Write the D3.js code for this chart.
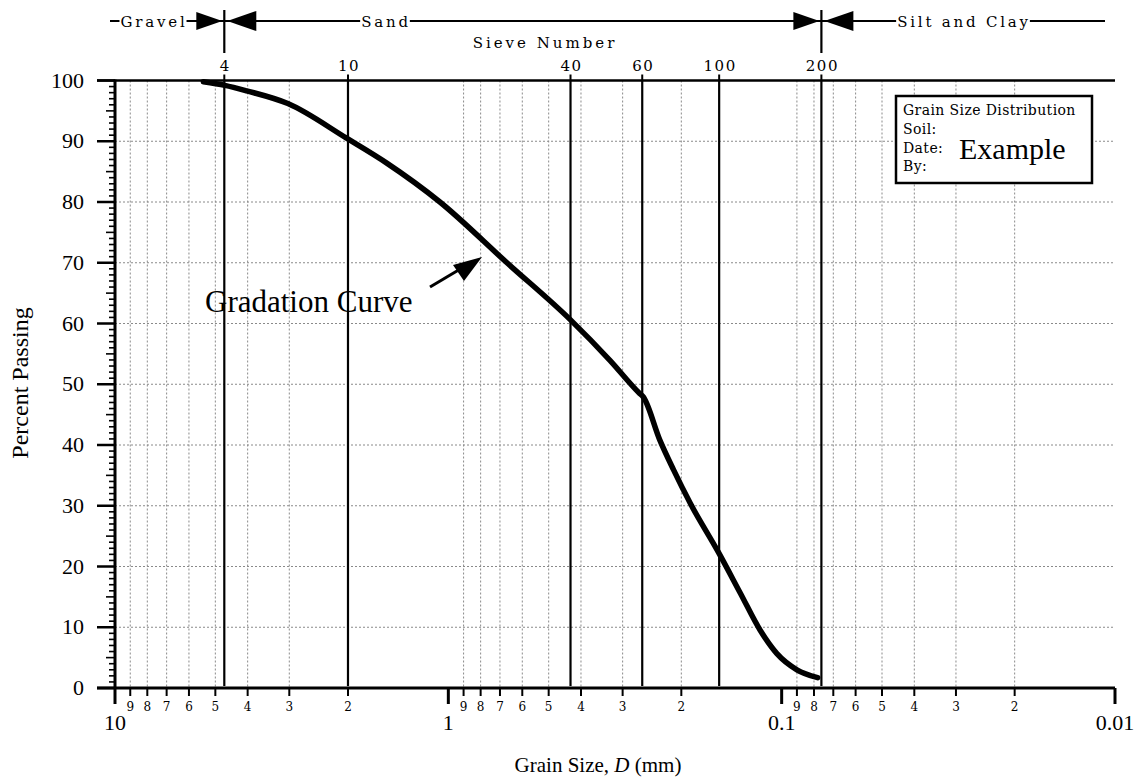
<!DOCTYPE html>
<html>
<head>
<meta charset="utf-8">
<script src="https://cdn.jsdelivr.net/npm/d3@7"></script>
<style>
  body { margin: 0; background: #fff; }
  svg { display: block; }
  text { font-family: "Liberation Serif", "Times New Roman", serif; fill: #000; }
  text.wide { font-family: "DejaVu Serif", serif; }
</style>
</head>
<body>
<div id="chart"></div>
<script>
// gradation curve
const grainSize = [5.43, 4.68, 4.03, 3.03, 2.02, 1.53, 1.06, 0.667, 0.43, 0.327, 0.268, 0.260, 0.232, 0.211, 0.188, 0.155, 0.133, 0.116, 0.1035, 0.090, 0.078];
const percentPassing = [99.8, 99.2, 98.3, 96.2, 90.5, 86.4, 80.0, 70.0, 60.6, 53.9, 48.6, 47.9, 40.8, 35.9, 30.4, 22.4, 15.6, 9.5, 5.7, 3.0, 1.7];

// sieves
const sieveNumbers = ["4", "10", "40", "60", "100", "200"];
const sieveSizes = [4.7, 2.0, 0.43, 0.262, 0.154, 0.076];

// axes
const yTicks = [0, 10, 20, 30, 40, 50, 60, 70, 80, 90, 100];
const decades = [10, 1, 0.1, 0.01];
const decadeLabels = ["10", "1", "0.1", "0.01"];
const minorDigits = [9, 8, 7, 6, 5, 4, 3, 2];

const soilClasses = ["Gravel", "Sand", "Silt and Clay"];
const boxLines = ["Grain Size Distribution", "Soil:", "Date:", "By:"];

const W = 1148, H = 779;
const plotL = 115, plotR = 1115, plotT = 80.5, plotB = 688;

const svg = d3.select("#chart").append("svg")
  .attr("width", W)
  .attr("height", H);

const x = d3.scaleLog().domain([10, 0.01]).range([plotL, plotR]);
const y = d3.scaleLinear().domain([0, 100]).range([plotB, plotT]);

// minor positions 2..9 in every decade
const minorVals = [];
decades.slice(0, 3).forEach((d) => {
  minorDigits.forEach((m) => minorVals.push({v: d * m / 10, label: m}));
});

// grid
svg.append("g").selectAll("line").data(minorVals).enter().append("line")
  .attr("x1", (d) => x(d.v)).attr("x2", (d) => x(d.v))
  .attr("y1", plotT).attr("y2", plotB)
  .attr("stroke", "#8a8a8a").attr("stroke-width", 1).attr("stroke-dasharray", "2,2");

svg.append("g").selectAll("line").data(yTicks.slice(1, -1)).enter().append("line")
  .attr("x1", plotL).attr("x2", plotR - 2)
  .attr("y1", (d) => y(d)).attr("y2", (d) => y(d))
  .attr("stroke", "#8a8a8a").attr("stroke-width", 1).attr("stroke-dasharray", "2,2");

// sieve lines
svg.append("g").selectAll("line").data(sieveSizes).enter().append("line")
  .attr("x1", (d) => x(d)).attr("x2", (d) => x(d))
  .attr("y1", plotT).attr("y2", plotB - 2)
  .attr("stroke", "#000").attr("stroke-width", 2.2);

svg.append("g").selectAll("line").data(sieveSizes).enter().append("line")
  .attr("x1", (d) => x(d)).attr("x2", (d) => x(d))
  .attr("y1", plotT - 6).attr("y2", plotT)
  .attr("stroke", "#000").attr("stroke-width", 2);

svg.append("g").selectAll("text").data(sieveNumbers).enter().append("text")
  .attr("class", "wide")
  .attr("x", (d, i) => x(sieveSizes[i]) + 1)
  .attr("y", 71)
  .attr("text-anchor", "middle")
  .attr("font-size", 15)
  .attr("letter-spacing", 1.5)
  .text((d) => d);

svg.append("text")
  .attr("class", "wide")
  .attr("x", 545).attr("y", 48)
  .attr("text-anchor", "middle")
  .attr("font-size", 15)
  .attr("letter-spacing", 3)
  .text("Sieve Number");

// soil class header
const headY = 21;
svg.append("line")
  .attr("x1", 110).attr("x2", 1105).attr("y1", headY).attr("y2", headY)
  .attr("stroke", "#000").attr("stroke-width", 2);

const classX = [154, 386, 964];
soilClasses.forEach((c, i) => {
  const t = svg.append("text")
    .attr("class", "wide")
    .attr("x", classX[i]).attr("y", headY + 6)
    .attr("text-anchor", "middle")
    .attr("font-size", 15)
    .attr("letter-spacing", 2.8)
    .text(c);
  const bb = t.node().getBBox();
  svg.insert("rect", () => t.node())
    .attr("x", bb.x - 1).attr("y", bb.y).attr("width", bb.width).attr("height", bb.height)
    .attr("fill", "#fff");
});

[sieveSizes[0], sieveSizes[5]].forEach((s) => {
  const bx = x(s);
  svg.append("line")
    .attr("x1", bx).attr("x2", bx).attr("y1", 10).attr("y2", 53)
    .attr("stroke", "#000").attr("stroke-width", 2.2);
  svg.append("path")
    .attr("d", `M${bx - 2},${headY} L${bx - 28},${headY - 9} L${bx - 28},${headY + 9} Z`)
    .attr("fill", "#000");
  svg.append("path")
    .attr("d", `M${bx + 3},${headY} L${bx + 32},${headY - 10} L${bx + 32},${headY + 10} Z`)
    .attr("fill", "#000");
});

// y axis
svg.append("line")
  .attr("x1", plotL).attr("x2", plotL).attr("y1", plotT - 1).attr("y2", plotB + 1)
  .attr("stroke", "#000").attr("stroke-width", 3);

const yMinor = d3.range(1, 100).filter((d) => d % 10 !== 0);
svg.append("g").selectAll("line").data(yMinor).enter().append("line")
  .attr("x1", (d) => d % 5 === 0 ? plotL - 9 : plotL - 6).attr("x2", plotL)
  .attr("y1", (d) => y(d)).attr("y2", (d) => y(d))
  .attr("stroke", "#000").attr("stroke-width", 1.6);

svg.append("g").selectAll("line").data(yTicks).enter().append("line")
  .attr("x1", plotL - 18).attr("x2", plotL)
  .attr("y1", (d) => y(d)).attr("y2", (d) => y(d))
  .attr("stroke", "#000").attr("stroke-width", 2.5);

svg.append("g").selectAll("text").data(yTicks).enter().append("text")
  .attr("x", plotL - 31).attr("y", (d) => y(d) + 7)
  .attr("text-anchor", "end")
  .attr("font-size", 22)
  .text((d) => d);

// top border and x axis
svg.append("line")
  .attr("x1", plotL - 18).attr("x2", plotR).attr("y1", plotT).attr("y2", plotT)
  .attr("stroke", "#000").attr("stroke-width", 2.5);
svg.append("line")
  .attr("x1", plotL - 18).attr("x2", plotR).attr("y1", plotB).attr("y2", plotB)
  .attr("stroke", "#000").attr("stroke-width", 3);

svg.append("g").selectAll("line").data(decades).enter().append("line")
  .attr("x1", (d) => x(d)).attr("x2", (d) => x(d))
  .attr("y1", plotB).attr("y2", plotB + 16)
  .attr("stroke", "#000").attr("stroke-width", 3);

svg.append("g").selectAll("line").data(minorVals).enter().append("line")
  .attr("x1", (d) => x(d.v)).attr("x2", (d) => x(d.v))
  .attr("y1", plotB).attr("y2", plotB + 8)
  .attr("stroke", "#000").attr("stroke-width", 2);

svg.append("g").selectAll("text").data(minorVals).enter().append("text")
  .attr("class", "wide")
  .attr("x", (d) => x(d.v)).attr("y", plotB + 23)
  .attr("text-anchor", "middle")
  .attr("font-size", 12)
  .text((d) => d.label);

svg.append("g").selectAll("text").data(decades).enter().append("text")
  .attr("x", (d) => x(d)).attr("y", plotB + 42)
  .attr("text-anchor", "middle")
  .attr("font-size", 22)
  .text((d, i) => decadeLabels[i]);

// axis titles
const xt = svg.append("text")
  .attr("x", 598).attr("y", 772)
  .attr("text-anchor", "middle")
  .attr("font-size", 21);
xt.append("tspan").text("Grain Size, ");
xt.append("tspan").attr("font-style", "italic").text("D");
xt.append("tspan").text(" (mm)");

svg.append("text")
  .attr("transform", "translate(28,383) rotate(-90)")
  .attr("text-anchor", "middle")
  .attr("font-size", 24)
  .text("Percent Passing");

// gradation curve
const line = d3.line()
  .x((d) => x(d[0]))
  .y((d) => y(d[1]))
  .curve(d3.curveMonotoneX);

svg.append("path")
  .datum(grainSize.map((g, i) => [g, percentPassing[i]]))
  .attr("d", line)
  .attr("fill", "none")
  .attr("stroke", "#000")
  .attr("stroke-width", 5.5)
  .attr("stroke-linecap", "round")
  .attr("stroke-linejoin", "round");

// annotation
svg.append("text")
  .attr("x", 205).attr("y", 312)
  .attr("font-size", 31)
  .text("Gradation Curve");

svg.append("line")
  .attr("x1", 430).attr("y1", 287).attr("x2", 462).attr("y2", 268)
  .attr("stroke", "#000").attr("stroke-width", 3);
svg.append("path")
  .attr("d", "M482,257 L453,265 L464,281 Z")
  .attr("fill", "#000");

// info box
svg.append("rect")
  .attr("x", 896).attr("y", 96).attr("width", 196).attr("height", 87)
  .attr("fill", "#fff").attr("stroke", "#000").attr("stroke-width", 2.5);

const boxY = [115, 134, 153, 171];
svg.append("g").selectAll("text").data(boxLines).enter().append("text")
  .attr("class", "wide")
  .attr("x", 903).attr("y", (d, i) => boxY[i])
  .attr("font-size", 14)
  .attr("letter-spacing", 0.4)
  .text((d) => d);

svg.append("text")
  .attr("x", 959).attr("y", 159)
  .attr("font-size", 30)
  .text("Example");
</script>
</body>
</html>
